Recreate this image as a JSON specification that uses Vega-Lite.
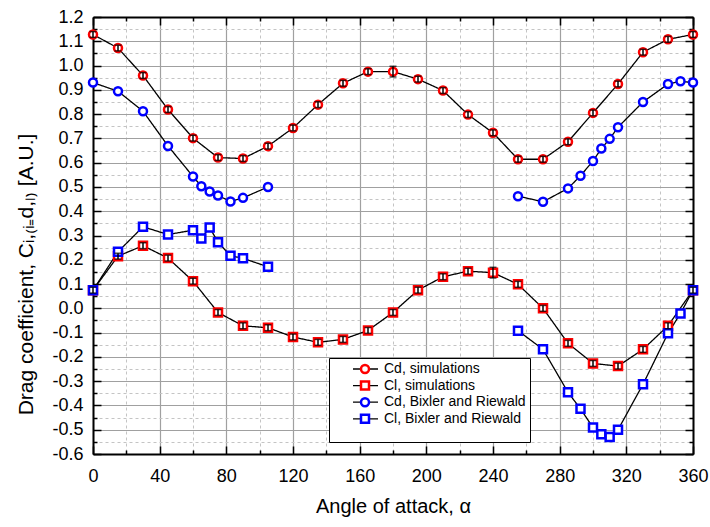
{
  "$schema": "https://vega.github.io/schema/vega-lite/v6.json",
  "width": 600,
  "height": 437,
  "autosize": "none",
  "padding": {"left": 93, "top": 17, "right": 17, "bottom": 73},
  "background": "white",
  "config": {"view": {"stroke": null}, "font": "Liberation Sans"},
  "data": {"values": [
    {"series": "Cd, simulations", "seg": 1, "angle": 0, "value": 1.128, "err": 0.012},
    {"series": "Cd, simulations", "seg": 1, "angle": 15, "value": 1.072, "err": 0.012},
    {"series": "Cd, simulations", "seg": 1, "angle": 30, "value": 0.959, "err": 0.012},
    {"series": "Cd, simulations", "seg": 1, "angle": 45, "value": 0.819, "err": 0.012},
    {"series": "Cd, simulations", "seg": 1, "angle": 60, "value": 0.701, "err": 0.012},
    {"series": "Cd, simulations", "seg": 1, "angle": 75, "value": 0.621, "err": 0.012},
    {"series": "Cd, simulations", "seg": 1, "angle": 90, "value": 0.617, "err": 0.012},
    {"series": "Cd, simulations", "seg": 1, "angle": 105, "value": 0.668, "err": 0.012},
    {"series": "Cd, simulations", "seg": 1, "angle": 120, "value": 0.743, "err": 0.012},
    {"series": "Cd, simulations", "seg": 1, "angle": 135, "value": 0.839, "err": 0.012},
    {"series": "Cd, simulations", "seg": 1, "angle": 150, "value": 0.927, "err": 0.012},
    {"series": "Cd, simulations", "seg": 1, "angle": 165, "value": 0.975, "err": 0.012},
    {"series": "Cd, simulations", "seg": 1, "angle": 180, "value": 0.975, "err": 0.022},
    {"series": "Cd, simulations", "seg": 1, "angle": 195, "value": 0.944, "err": 0.012},
    {"series": "Cd, simulations", "seg": 1, "angle": 210, "value": 0.897, "err": 0.012},
    {"series": "Cd, simulations", "seg": 1, "angle": 225, "value": 0.798, "err": 0.012},
    {"series": "Cd, simulations", "seg": 1, "angle": 240, "value": 0.723, "err": 0.012},
    {"series": "Cd, simulations", "seg": 1, "angle": 255, "value": 0.614, "err": 0.012},
    {"series": "Cd, simulations", "seg": 1, "angle": 270, "value": 0.614, "err": 0.012},
    {"series": "Cd, simulations", "seg": 1, "angle": 285, "value": 0.686, "err": 0.012},
    {"series": "Cd, simulations", "seg": 1, "angle": 300, "value": 0.805, "err": 0.012},
    {"series": "Cd, simulations", "seg": 1, "angle": 315, "value": 0.924, "err": 0.012},
    {"series": "Cd, simulations", "seg": 1, "angle": 330, "value": 1.055, "err": 0.012},
    {"series": "Cd, simulations", "seg": 1, "angle": 345, "value": 1.108, "err": 0.012},
    {"series": "Cd, simulations", "seg": 1, "angle": 360, "value": 1.128, "err": 0.012},
    {"series": "Cl, simulations", "seg": 1, "angle": 0, "value": 0.075, "err": 0.012},
    {"series": "Cl, simulations", "seg": 1, "angle": 15, "value": 0.215, "err": 0.012},
    {"series": "Cl, simulations", "seg": 1, "angle": 30, "value": 0.258, "err": 0.012},
    {"series": "Cl, simulations", "seg": 1, "angle": 45, "value": 0.207, "err": 0.012},
    {"series": "Cl, simulations", "seg": 1, "angle": 60, "value": 0.112, "err": 0.012},
    {"series": "Cl, simulations", "seg": 1, "angle": 75, "value": -0.017, "err": 0.012},
    {"series": "Cl, simulations", "seg": 1, "angle": 90, "value": -0.072, "err": 0.012},
    {"series": "Cl, simulations", "seg": 1, "angle": 105, "value": -0.080, "err": 0.012},
    {"series": "Cl, simulations", "seg": 1, "angle": 120, "value": -0.118, "err": 0.012},
    {"series": "Cl, simulations", "seg": 1, "angle": 135, "value": -0.140, "err": 0.012},
    {"series": "Cl, simulations", "seg": 1, "angle": 150, "value": -0.128, "err": 0.012},
    {"series": "Cl, simulations", "seg": 1, "angle": 165, "value": -0.091, "err": 0.012},
    {"series": "Cl, simulations", "seg": 1, "angle": 180, "value": -0.017, "err": 0.012},
    {"series": "Cl, simulations", "seg": 1, "angle": 195, "value": 0.075, "err": 0.012},
    {"series": "Cl, simulations", "seg": 1, "angle": 210, "value": 0.130, "err": 0.012},
    {"series": "Cl, simulations", "seg": 1, "angle": 225, "value": 0.153, "err": 0.012},
    {"series": "Cl, simulations", "seg": 1, "angle": 240, "value": 0.147, "err": 0.022},
    {"series": "Cl, simulations", "seg": 1, "angle": 255, "value": 0.099, "err": 0.012},
    {"series": "Cl, simulations", "seg": 1, "angle": 270, "value": 0.000, "err": 0.012},
    {"series": "Cl, simulations", "seg": 1, "angle": 285, "value": -0.144, "err": 0.012},
    {"series": "Cl, simulations", "seg": 1, "angle": 300, "value": -0.227, "err": 0.012},
    {"series": "Cl, simulations", "seg": 1, "angle": 315, "value": -0.238, "err": 0.012},
    {"series": "Cl, simulations", "seg": 1, "angle": 330, "value": -0.169, "err": 0.012},
    {"series": "Cl, simulations", "seg": 1, "angle": 345, "value": -0.072, "err": 0.012},
    {"series": "Cl, simulations", "seg": 1, "angle": 360, "value": 0.075, "err": 0.012},
    {"series": "Cd, Bixler and Riewald", "seg": 1, "angle": 0, "value": 0.930},
    {"series": "Cd, Bixler and Riewald", "seg": 1, "angle": 15, "value": 0.894},
    {"series": "Cd, Bixler and Riewald", "seg": 1, "angle": 30, "value": 0.812},
    {"series": "Cd, Bixler and Riewald", "seg": 1, "angle": 45, "value": 0.669},
    {"series": "Cd, Bixler and Riewald", "seg": 1, "angle": 60, "value": 0.543},
    {"series": "Cd, Bixler and Riewald", "seg": 1, "angle": 65, "value": 0.503},
    {"series": "Cd, Bixler and Riewald", "seg": 1, "angle": 70, "value": 0.481},
    {"series": "Cd, Bixler and Riewald", "seg": 1, "angle": 75, "value": 0.465},
    {"series": "Cd, Bixler and Riewald", "seg": 1, "angle": 82.5, "value": 0.440},
    {"series": "Cd, Bixler and Riewald", "seg": 1, "angle": 90, "value": 0.455},
    {"series": "Cd, Bixler and Riewald", "seg": 1, "angle": 105, "value": 0.500},
    {"series": "Cd, Bixler and Riewald", "seg": 2, "angle": 255, "value": 0.462},
    {"series": "Cd, Bixler and Riewald", "seg": 2, "angle": 270, "value": 0.439},
    {"series": "Cd, Bixler and Riewald", "seg": 2, "angle": 285, "value": 0.494},
    {"series": "Cd, Bixler and Riewald", "seg": 2, "angle": 292.5, "value": 0.546},
    {"series": "Cd, Bixler and Riewald", "seg": 2, "angle": 300, "value": 0.607},
    {"series": "Cd, Bixler and Riewald", "seg": 2, "angle": 305, "value": 0.658},
    {"series": "Cd, Bixler and Riewald", "seg": 2, "angle": 310, "value": 0.698},
    {"series": "Cd, Bixler and Riewald", "seg": 2, "angle": 315, "value": 0.746},
    {"series": "Cd, Bixler and Riewald", "seg": 2, "angle": 330, "value": 0.850},
    {"series": "Cd, Bixler and Riewald", "seg": 2, "angle": 345, "value": 0.924},
    {"series": "Cd, Bixler and Riewald", "seg": 2, "angle": 352.5, "value": 0.935},
    {"series": "Cd, Bixler and Riewald", "seg": 2, "angle": 360, "value": 0.930},
    {"series": "Cl, Bixler and Riewald", "seg": 1, "angle": 0, "value": 0.075},
    {"series": "Cl, Bixler and Riewald", "seg": 1, "angle": 15, "value": 0.233},
    {"series": "Cl, Bixler and Riewald", "seg": 1, "angle": 30, "value": 0.336},
    {"series": "Cl, Bixler and Riewald", "seg": 1, "angle": 45, "value": 0.304},
    {"series": "Cl, Bixler and Riewald", "seg": 1, "angle": 60, "value": 0.322},
    {"series": "Cl, Bixler and Riewald", "seg": 1, "angle": 65, "value": 0.288},
    {"series": "Cl, Bixler and Riewald", "seg": 1, "angle": 70, "value": 0.333},
    {"series": "Cl, Bixler and Riewald", "seg": 1, "angle": 75, "value": 0.272},
    {"series": "Cl, Bixler and Riewald", "seg": 1, "angle": 82.5, "value": 0.217},
    {"series": "Cl, Bixler and Riewald", "seg": 1, "angle": 90, "value": 0.206},
    {"series": "Cl, Bixler and Riewald", "seg": 1, "angle": 105, "value": 0.171},
    {"series": "Cl, Bixler and Riewald", "seg": 2, "angle": 255, "value": -0.092},
    {"series": "Cl, Bixler and Riewald", "seg": 2, "angle": 270, "value": -0.169},
    {"series": "Cl, Bixler and Riewald", "seg": 2, "angle": 285, "value": -0.346},
    {"series": "Cl, Bixler and Riewald", "seg": 2, "angle": 292.5, "value": -0.414},
    {"series": "Cl, Bixler and Riewald", "seg": 2, "angle": 300, "value": -0.491},
    {"series": "Cl, Bixler and Riewald", "seg": 2, "angle": 305, "value": -0.519},
    {"series": "Cl, Bixler and Riewald", "seg": 2, "angle": 310, "value": -0.530},
    {"series": "Cl, Bixler and Riewald", "seg": 2, "angle": 315, "value": -0.500},
    {"series": "Cl, Bixler and Riewald", "seg": 2, "angle": 330, "value": -0.313},
    {"series": "Cl, Bixler and Riewald", "seg": 2, "angle": 345, "value": -0.103},
    {"series": "Cl, Bixler and Riewald", "seg": 2, "angle": 352.5, "value": -0.021},
    {"series": "Cl, Bixler and Riewald", "seg": 2, "angle": 360, "value": 0.075}
  ]},
  "resolve": {"axis": {"x": "independent", "y": "independent"}},
  "layer": [
    {
      "mark": {"type": "line", "color": "black", "strokeWidth": 1.3},
      "encoding": {
        "x": {"field": "angle", "type": "quantitative", "scale": {"domain": [0, 360], "nice": false, "zero": false},
          "axis": {"orient": "bottom", "values": [0, 40, 80, 120, 160, 200, 240, 280, 320, 360], "title": "Angle of attack, α",
            "titleFontSize": 20, "titleFontWeight": "normal", "titleColor": "black", "titlePadding": 11,
            "labelFontSize": 18, "labelColor": "black", "labelPadding": 21, "labelFlush": false, "labelOverlap": false,
            "tickSize": -8, "tickColor": "black", "tickWidth": 1.5, "domainColor": "black", "domainWidth": 2,
            "grid": true, "gridColor": "#a0a0a0", "gridWidth": 1.2}},
        "y": {"field": "value", "type": "quantitative", "scale": {"domain": [-0.6, 1.2], "nice": false, "zero": false},
          "axis": {"orient": "left", "values": [-0.6, -0.5, -0.4, -0.3, -0.2, -0.1, 0, 0.1, 0.2, 0.3, 0.4, 0.5, 0.6, 0.7, 0.8, 0.9, 1.0, 1.1, 1.2],
            "format": ".1f", "labelExpr": "replace(datum.label, '\u2212', '-')",
            "title": "Drag coefficient, Cᵢ,₍ᵢ₌d,ₗ₎  [A.U.]", "titleFontSize": 21, "titleFontWeight": "normal", "titleColor": "black",
            "titleX": -61, "titleY": 257, "titleBaseline": "alphabetic", "titleAngle": -90, "titleAlign": "center", "titleAnchor": null,
            "labelFontSize": 18, "labelColor": "black", "labelPadding": 18, "labelFlush": false, "labelOverlap": false,
            "tickSize": -8, "tickColor": "black", "tickWidth": 1.5, "domainColor": "black", "domainWidth": 2,
            "grid": true, "gridColor": "#a0a0a0", "gridWidth": 1.2}},
        "strokeDash": {"field": "series", "type": "nominal",
          "sort": ["Cd, simulations", "Cl, simulations", "Cd, Bixler and Riewald", "Cl, Bixler and Riewald"],
          "scale": {"range": [[1, 0], [1, 0], [1, 0], [1, 0]]},
          "legend": {"title": " ", "titleOrient": "bottom", "titleFontSize": 12, "titlePadding": 1,
            "orient": "none", "legendX": 236, "legendY": 341, "zindex": 1,
            "fillColor": "white", "strokeColor": "black", "padding": 4,
            "symbolType": "M3.25,0H9.5", "symbolSize": 64, "symbolStrokeColor": "black", "symbolStrokeWidth": 1.3,
            "labelExpr": "' '", "labelOffset": 179, "labelFontSize": 14, "labelColor": "black", "labelOpacity": 0, "labelLimit": 300, "rowPadding": 2.6}},
        "strokeWidth": {"field": "seg", "type": "nominal", "scale": {"range": [1.3, 1.3]}, "legend": null},
        "order": {"field": "angle", "type": "quantitative"}
      }
    },
    {
      "mark": {"type": "point", "filled": false, "fill": "white", "strokeWidth": 2.5, "size": 64, "opacity": 1},
      "encoding": {
        "x": {"field": "angle", "type": "quantitative",
          "axis": {"orient": "bottom", "values": [20, 60, 100, 140, 180, 220, 260, 300, 340], "title": null, "labels": false,
            "tickSize": -4, "tickColor": "black", "tickWidth": 1.5, "domain": false,
            "grid": true, "gridColor": "#c4c4c4", "gridWidth": 1, "gridDash": [3, 3]}},
        "y": {"field": "value", "type": "quantitative",
          "axis": {"orient": "left", "values": [-0.55, -0.45, -0.35, -0.25, -0.15, -0.05, 0.05, 0.15, 0.25, 0.35, 0.45, 0.55, 0.65, 0.75, 0.85, 0.95, 1.05, 1.15],
            "title": null, "labels": false,
            "tickSize": -4, "tickColor": "black", "tickWidth": 1.5, "domain": false,
            "grid": true, "gridColor": "#c4c4c4", "gridWidth": 1, "gridDash": [3, 3]}},
        "color": {"field": "series", "type": "nominal",
          "scale": {"domain": ["Cd, simulations", "Cl, simulations", "Cd, Bixler and Riewald", "Cl, Bixler and Riewald"], "range": ["#ff0000", "#ff0000", "#0000ff", "#0000ff"]},
          "legend": {"title": null,
            "orient": "none", "legendX": 261, "legendY": 341, "zindex": 2, "padding": 4,
            "symbolSize": 64, "symbolStrokeWidth": 2.5, "symbolFillColor": "white",
            "labelOffset": 12, "labelFontSize": 14, "labelColor": "black", "labelLimit": 300, "rowPadding": -1.4}},
        "shape": {"field": "series", "type": "nominal",
          "scale": {"domain": ["Cd, simulations", "Cl, simulations", "Cd, Bixler and Riewald", "Cl, Bixler and Riewald"], "range": ["circle", "square", "circle", "square"]}}
      }
    },
    {
      "transform": [
        {"filter": "isValid(datum.err)"},
        {"calculate": "datum.value - datum.err", "as": "lo"},
        {"calculate": "datum.value + datum.err", "as": "hi"}
      ],
      "mark": {"type": "rule", "color": "black", "strokeWidth": 1.5},
      "encoding": {
        "x": {"field": "angle", "type": "quantitative",
          "axis": {"orient": "top", "values": [0, 40, 80, 120, 160, 200, 240, 280, 320, 360], "title": null, "labels": false,
            "tickSize": -8, "tickColor": "black", "tickWidth": 1.5, "domainColor": "black", "domainWidth": 2, "grid": false}},
        "y": {"field": "lo", "type": "quantitative",
          "axis": {"orient": "right", "values": [-0.6, -0.5, -0.4, -0.3, -0.2, -0.1, 0, 0.1, 0.2, 0.3, 0.4, 0.5, 0.6, 0.7, 0.8, 0.9, 1.0, 1.1, 1.2],
            "title": null, "labels": false,
            "tickSize": -8, "tickColor": "black", "tickWidth": 1.5, "domainColor": "black", "domainWidth": 2, "grid": false}},
        "y2": {"field": "hi"}
      }
    },
    {
      "transform": [
        {"filter": "isValid(datum.err)"},
        {"calculate": "datum.value - datum.err", "as": "lo"},
        {"calculate": "datum.value + datum.err", "as": "hi"},
        {"fold": ["lo", "hi"], "as": ["end", "yv"]}
      ],
      "mark": {"type": "tick", "orient": "horizontal", "color": "black", "size": 7, "thickness": 1.5},
      "encoding": {
        "x": {"field": "angle", "type": "quantitative",
          "axis": {"orient": "top", "values": [20, 60, 100, 140, 180, 220, 260, 300, 340], "title": null, "labels": false,
            "tickSize": -4, "tickColor": "black", "tickWidth": 1.5, "domain": false, "grid": false}},
        "y": {"field": "yv", "type": "quantitative",
          "axis": {"orient": "right", "values": [-0.55, -0.45, -0.35, -0.25, -0.15, -0.05, 0.05, 0.15, 0.25, 0.35, 0.45, 0.55, 0.65, 0.75, 0.85, 0.95, 1.05, 1.15],
            "title": null, "labels": false,
            "tickSize": -4, "tickColor": "black", "tickWidth": 1.5, "domain": false, "grid": false}}
      }
    }
  ]
}
